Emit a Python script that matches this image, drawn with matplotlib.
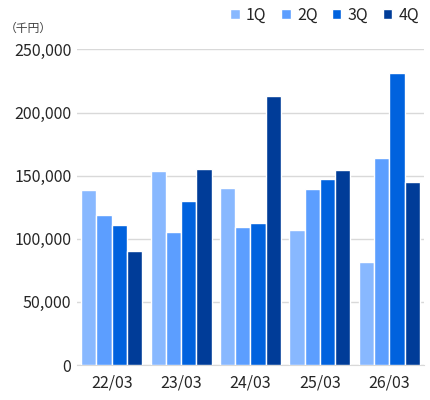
import numpy as np
import matplotlib
matplotlib.use('Agg')
import matplotlib.pyplot as plt

plt.rcParams['font.family'] = ['Noto Sans CJK JP', 'DejaVu Sans']

years = ['22/03', '23/03', '24/03', '25/03', '26/03']
q1 = [138300, 154000, 140600, 106600, 81400]
q2 = [118500, 105000, 109000, 139800, 164300]
q3 = [110600, 129600, 112200, 147000, 231500]
q4 = [90100, 155600, 213300, 154800, 144600]
quarters = ['1Q', '2Q', '3Q', '4Q']
colors = ['#88B8FF', '#5C9EFF', '#0062DE', '#003C98']

fig = plt.figure(figsize=(4.3, 4.0), dpi=100)
ax = fig.add_axes([0.179, 0.0875, 0.807, 0.789])

x = np.arange(len(years))
w = 0.22
for i, (vals, lab, c) in enumerate(zip([q1, q2, q3, q4], quarters, colors)):
    ax.bar(x + (i - 1.5) * w, vals, w, color=c, label=lab,
           edgecolor='white', linewidth=1.0, zorder=3)

ax.set_xlim(-0.5, 4.5)
ax.set_ylim(0, 250000)
ax.set_yticks(np.arange(0, 250001, 50000))
ax.set_yticklabels([f'{v:,}' for v in range(0, 250001, 50000)])
ax.set_xticks(x)
ax.set_xticklabels(years)
ax.grid(axis='y', color='#D9D9D9', linewidth=1.0, zorder=0)
for s in ['top', 'right', 'left']:
    ax.spines[s].set_visible(False)
ax.spines['bottom'].set_color('#D9D9D9')
ax.tick_params(axis='both', length=0, labelsize=11.5, colors='#262626')
ax.tick_params(axis='y', pad=4)
ax.tick_params(axis='x', pad=7)

fig.text(0.012, 0.93, '（千円）', fontsize=8.5, color='#404040', va='center')

ax.legend(loc='center right', bbox_to_anchor=(1.01, 1.109), ncol=4, frameon=False,
          fontsize=11.5, handlelength=0.6, handleheight=0.6, handletextpad=0.4,
          columnspacing=0.9, labelcolor='#262626', borderpad=0)

fig.savefig('out.png', dpi=100)
